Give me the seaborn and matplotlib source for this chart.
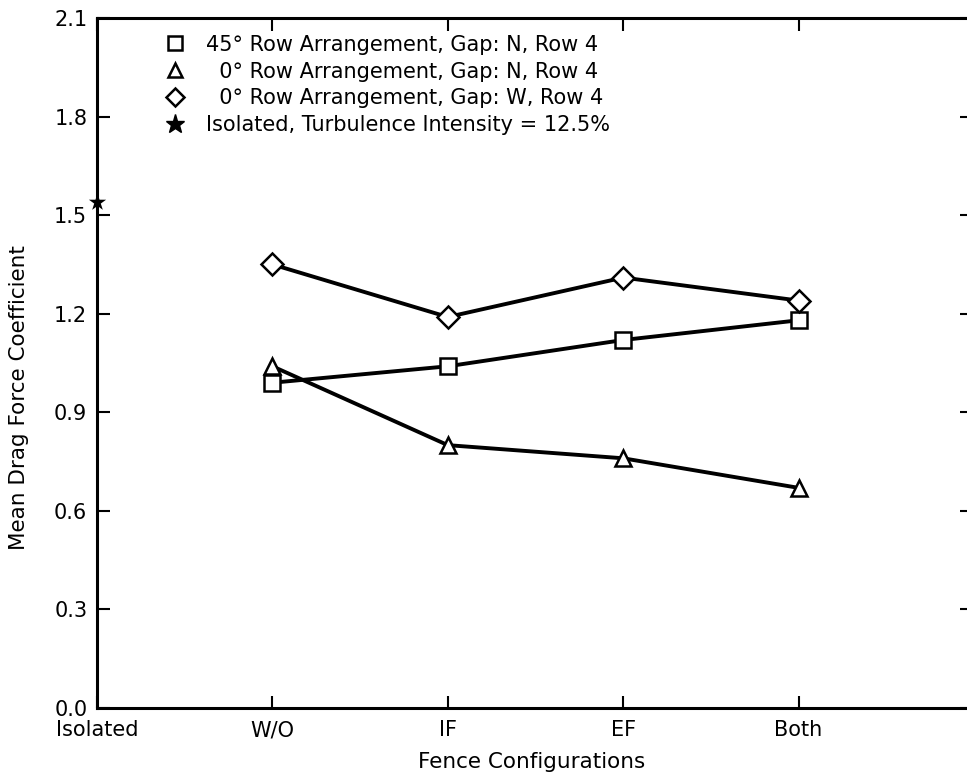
import matplotlib
matplotlib.use("Agg")
import matplotlib.pyplot as plt
from matplotlib.lines import Line2D
import seaborn as sns
import pandas as pd

# === Data ===
categories = ["Isolated", "W/O", "IF", "EF", "Both"]
config_pos = [1, 2, 3, 4]  # W/O, IF, EF, Both

row45_gapN = [0.99, 1.04, 1.12, 1.18]
row0_gapN = [1.04, 0.80, 0.76, 0.67]
row0_gapW = [1.35, 1.19, 1.31, 1.24]
isolated_value = [1.54]

yticks = [0.0, 0.3, 0.6, 0.9, 1.2, 1.5, 1.8, 2.1]

labels = [
    "45° Row Arrangement, Gap: N, Row 4",
    "  0° Row Arrangement, Gap: N, Row 4",
    "  0° Row Arrangement, Gap: W, Row 4",
    "Isolated, Turbulence Intensity = 12.5%",
]

# === Long table for seaborn ===
df = pd.DataFrame({
    "x": config_pos * 3,
    "cd": row45_gapN + row0_gapN + row0_gapW,
    "series": ["sq"] * 4 + ["tri"] * 4 + ["dia"] * 4,
})
iso = pd.DataFrame({"x": [0], "cd": isolated_value})

sns.set_style("ticks", {"axes.edgecolor": "black", "text.color": "black",
                        "xtick.color": "black", "ytick.color": "black",
                        "axes.labelcolor": "black"})
plt.rcParams["font.family"] = ["DejaVu Sans"]

fig = plt.figure(figsize=(9.67, 7.79), dpi=100)
ax = fig.add_axes([97 / 967, 1 - 708 / 779, 1 - 97 / 967, (708 - 18) / 779])

markers = {"sq": "s", "tri": "^", "dia": "D"}
sns.lineplot(data=df, x="x", y="cd", style="series", markers=markers,
             dashes=False, color="black", linewidth=2.8, markersize=11,
             markerfacecolor="white", markeredgecolor="black",
             markeredgewidth=1.8, legend=False, ax=ax)

sns.scatterplot(data=iso, x="x", y="cd", marker="*", s=170, color="black",
                linewidth=0, clip_on=False, zorder=5, ax=ax)

ax.set_xlim(0, 4.96)
ax.set_ylim(0, 2.1)
ax.set_xticks(range(len(categories)))
ax.set_xticklabels(categories)
ax.set_yticks(yticks)
ax.set_yticklabels([f"{v:.1f}" for v in yticks])

for s in ["left", "bottom", "top"]:
    ax.spines[s].set_linewidth(2.2)
    ax.spines[s].set_visible(True)
ax.spines["right"].set_visible(False)

ax.tick_params(axis="both", direction="in", length=9, width=1.5,
               labelsize=15, color="black")
ax.tick_params(axis="x", top=True, pad=9)
ax.tick_params(axis="y", right=False, pad=7)

# short ticks on the (cut-off) right edge
sec = ax.secondary_yaxis("right")
sec.set_yticks(yticks)
sec.set_yticklabels([])
sec.tick_params(direction="in", length=5, width=1.5, color="black")
sec.spines["right"].set_visible(False)

ax.set_xlabel("Fence Configurations", fontsize=15.5, labelpad=8)
ax.set_ylabel("Mean Drag Force Coefficient", fontsize=15.5)
ax.yaxis.set_label_coords(-0.078, 0.45)

handles = [
    Line2D([], [], marker="s", ls="none", mfc="white", mec="black", mew=1.8, ms=10),
    Line2D([], [], marker="^", ls="none", mfc="white", mec="black", mew=1.8, ms=10),
    Line2D([], [], marker="D", ls="none", mfc="white", mec="black", mew=1.8, ms=9),
    Line2D([], [], marker="*", ls="none", color="black", ms=14),
]
ax.legend(handles, labels, loc="upper left", bbox_to_anchor=(0.054, 1.003),
          frameon=False, fontsize=15, handlelength=1.2, handletextpad=0.9,
          labelspacing=0.33)

fig.savefig("out.png", dpi=100)
